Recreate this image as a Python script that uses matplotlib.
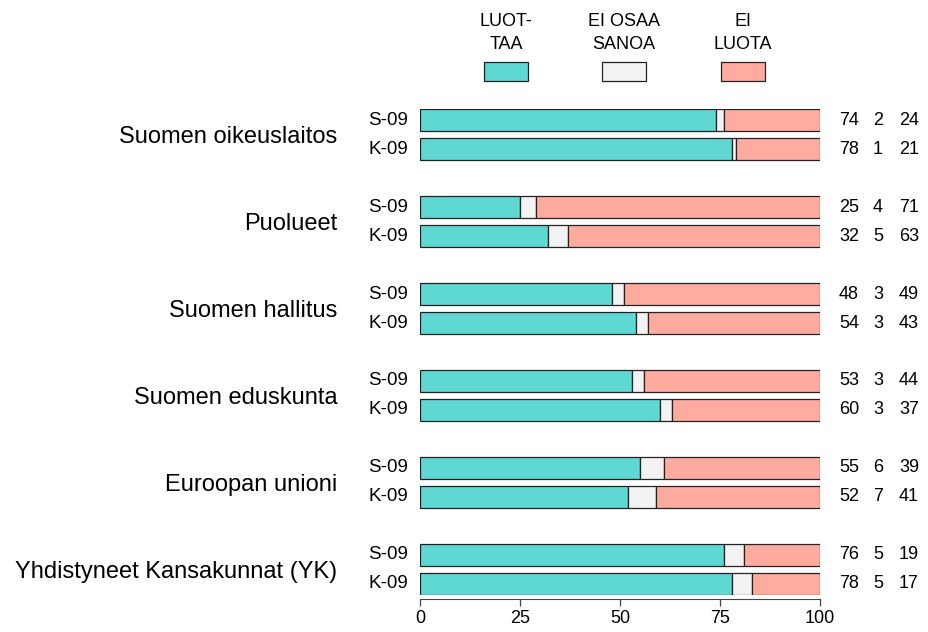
import numpy as np
import matplotlib.pyplot as plt
from matplotlib.patches import Rectangle

plt.rcParams['font.family'] = ['Liberation Sans', 'DejaVu Sans']

categories = ["Suomen oikeuslaitos", "Puolueet", "Suomen hallitus",
              "Suomen eduskunta", "Euroopan unioni", "Yhdistyneet Kansakunnat (YK)"]
rows = ["S-09", "K-09"]
luottaa = [[74, 78], [25, 32], [48, 54], [53, 60], [55, 52], [76, 78]]
ei_osaa = [[2, 1], [4, 5], [3, 3], [3, 3], [6, 7], [5, 5]]
ei_luota = [[24, 21], [71, 63], [49, 43], [44, 37], [39, 41], [19, 17]]
legend_labels = ["LUOT-\nTAA", "EI OSAA\nSANOA", "EI\nLUOTA"]
colors = ["#5fd7d2", "#f2f2f2", "#ffab9f"]
xticks = [0, 25, 50, 75, 100]

W, H = 929, 632
fig = plt.figure(figsize=(W / 100, H / 100), dpi=100)
# axes: x 420..820 px, y 109..595 px
ax = fig.add_axes([420 / W, 1 - 595 / H, 400 / W, (595 - 109) / H])

bh = 0.76
for g, cat in enumerate(categories):
    for r in range(2):
        y = 3 * g + r
        left = 0
        for vals, c in zip([luottaa, ei_osaa, ei_luota], colors):
            v = vals[g][r]
            ax.barh(y, v, left=left, height=bh, color=c, edgecolor="#222222", linewidth=0.9)
            left += v
        ax.text(-3, y, rows[r], ha="right", va="center", fontsize=13.5)
        for xv, v in zip([107.25, 114.5, 122.25],
                         [luottaa[g][r], ei_osaa[g][r], ei_luota[g][r]]):
            ax.text(xv, y, str(v), ha="center", va="center", fontsize=13, clip_on=False)
    ax.text(-20.6, 3 * g + 0.6, cat, ha="right", va="center", fontsize=17)

ax.set_xlim(0, 100)
ax.set_ylim(16.38, -0.38)
ax.set_xticks(xticks)
ax.tick_params(axis="x", labelsize=13, length=5, width=0.9, color="#444444", pad=3)
ax.set_yticks([])
for s in ["top", "right", "left"]:
    ax.spines[s].set_visible(False)
ax.spines["bottom"].set_position(("outward", 3))
ax.spines["bottom"].set_color("#444444")

# legend
for i, (lab, c, x0) in enumerate(zip(legend_labels, colors, [16, 45.5, 75.25])):
    ax.add_patch(Rectangle((x0, -1.34), 11, -0.66, facecolor=c, edgecolor="#222222",
                           linewidth=0.9, clip_on=False))
    ax.text(x0 + 5.5, -3.0, lab, ha="center", va="center", fontsize=13,
            linespacing=1.45, clip_on=False)

fig.savefig("out.png", dpi=100)
